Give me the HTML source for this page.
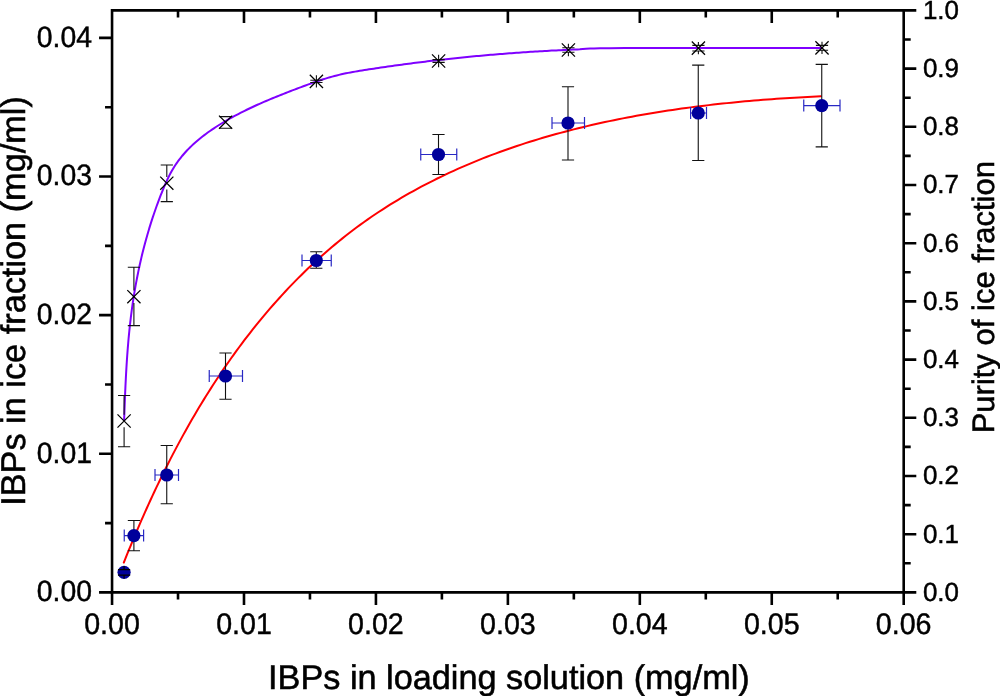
<!DOCTYPE html><html><head><meta charset="utf-8"><style>html,body{margin:0;padding:0;background:#fff}svg{display:block;will-change:transform}text{font-family:"Liberation Sans",sans-serif;fill:#000;text-rendering:geometricPrecision}</style></head><body>
<svg width="1000" height="696" viewBox="0 0 1000 696">
<rect width="1000" height="696" fill="#fff"/>
<path d="M124.11,420.97 L124.19,418.63 L124.27,416.29 L124.35,413.95 L124.44,411.60 L124.52,409.26 L124.60,406.91 L124.69,404.57 L124.78,402.22 L124.87,399.87 L124.97,397.53 L125.06,395.18 L125.16,392.83 L125.26,390.48 L125.37,388.13 L125.47,385.78 L125.58,383.43 L125.70,381.08 L125.82,378.72 L125.94,376.37 L126.07,374.02 L126.20,371.67 L126.33,369.32 L126.47,366.96 L126.61,364.61 L126.76,362.26 L126.92,359.91 L127.08,357.56 L127.24,355.21 L127.42,352.86 L127.59,350.51 L127.78,348.16 L127.97,345.81 L128.16,343.47 L128.36,341.12 L128.57,338.78 L128.79,336.43 L129.01,334.09 L129.25,331.74 L129.48,329.40 L129.73,327.06 L129.99,324.72 L130.25,322.39 L130.52,320.05 L130.80,317.71 L131.09,315.38 L131.38,313.05 L131.69,310.72 L132.00,308.39 L132.33,306.06 L132.66,303.74 L133.00,301.41 L133.36,299.09 L133.72,296.77 L134.09,294.45 L134.47,292.14 L134.86,289.82 L135.26,287.51 L135.67,285.20 L136.09,282.89 L136.53,280.58 L136.97,278.28 L137.42,275.98 L137.88,273.68 L138.35,271.38 L138.83,269.08 L139.32,266.79 L139.82,264.50 L140.34,262.21 L140.86,259.92 L141.39,257.64 L141.94,255.35 L142.49,253.07 L143.06,250.79 L143.64,248.52 L144.23,246.25 L144.83,243.98 L145.44,241.71 L146.06,239.44 L146.69,237.18 L147.33,234.92 L147.99,232.66 L148.65,230.41 L149.33,228.15 L150.02,225.90 L150.72,223.66 L151.44,221.41 L152.16,219.17 L152.90,216.93 L153.64,214.70 L154.40,212.47 L155.18,210.24 L155.96,208.01 L156.76,205.78 L157.56,203.56 L158.39,201.35 L159.22,199.13 L160.07,196.92 L160.93,194.71 L161.81,192.51 L162.70,190.31 L163.61,188.11 L164.53,185.92 L165.48,183.74 L166.45,181.57 L167.44,179.41 L168.47,177.28 L169.53,175.16 L170.62,173.08 L171.75,171.02 L172.93,168.99 L174.14,166.99 L175.40,165.04 L176.71,163.11 L178.05,161.22 L179.44,159.36 L180.87,157.54 L182.33,155.74 L183.83,153.98 L185.37,152.25 L186.94,150.55 L188.55,148.88 L190.19,147.24 L191.86,145.63 L193.56,144.04 L195.29,142.49 L197.04,140.96 L198.83,139.45 L200.64,137.97 L202.47,136.52 L204.33,135.09 L206.20,133.69 L208.10,132.31 L210.02,130.95 L211.96,129.61 L213.91,128.30 L215.88,127.00 L217.87,125.73 L219.87,124.48 L221.88,123.24 L223.90,122.03 L225.94,120.83 L227.98,119.65 L230.03,118.49 L232.10,117.35 L234.17,116.22 L236.24,115.11 L238.33,114.01 L240.43,112.93 L242.53,111.86 L244.64,110.81 L246.75,109.77 L248.88,108.75 L251.01,107.74 L253.14,106.74 L255.28,105.75 L257.43,104.77 L259.58,103.81 L261.74,102.86 L263.90,101.92 L266.07,100.98 L268.24,100.06 L270.42,99.15 L272.60,98.24 L274.78,97.35 L276.96,96.46 L279.15,95.58 L281.34,94.71 L283.54,93.84 L285.73,92.98 L287.93,92.13 L290.13,91.28 L292.33,90.43 L294.53,89.59 L296.73,88.76 L298.93,87.93 L301.14,87.10 L303.34,86.28 L305.54,85.46 L307.75,84.65 L309.95,83.85 L312.16,83.05 L314.37,82.27 L316.59,81.50 L318.80,80.75 L321.03,80.01 L323.25,79.29 L325.49,78.59 L327.72,77.91 L329.97,77.25 L332.22,76.61 L334.48,76.00 L336.74,75.41 L339.02,74.86 L341.30,74.33 L343.59,73.82 L345.89,73.34 L348.19,72.88 L350.50,72.44 L352.81,72.02 L355.13,71.61 L357.45,71.21 L359.78,70.83 L362.10,70.45 L364.43,70.08 L366.76,69.72 L369.09,69.36 L371.42,69.00 L373.75,68.64 L376.08,68.29 L378.41,67.95 L380.74,67.60 L383.07,67.26 L385.40,66.92 L387.73,66.58 L390.06,66.25 L392.39,65.92 L394.73,65.60 L397.06,65.27 L399.39,64.95 L401.72,64.64 L404.06,64.32 L406.39,64.01 L408.73,63.71 L411.06,63.40 L413.39,63.10 L415.73,62.80 L418.06,62.51 L420.40,62.22 L422.74,61.93 L425.07,61.64 L427.41,61.36 L429.75,61.08 L432.08,60.80 L434.42,60.53 L436.76,60.26 L439.09,59.99 L441.43,59.73 L443.77,59.46 L446.11,59.21 L448.45,58.95 L450.79,58.70 L453.13,58.45 L455.47,58.20 L457.80,57.96 L460.14,57.72 L462.49,57.48 L464.83,57.25 L467.17,57.02 L469.51,56.79 L471.85,56.56 L474.19,56.34 L476.53,56.12 L478.87,55.90 L481.21,55.69 L483.56,55.48 L485.90,55.27 L488.24,55.07 L490.59,54.87 L492.93,54.67 L495.27,54.47 L497.62,54.28 L499.96,54.09 L502.30,53.90 L504.65,53.72 L506.99,53.53 L509.34,53.36 L511.68,53.18 L514.03,53.01 L516.37,52.84 L518.72,52.67 L521.06,52.50 L523.41,52.34 L525.75,52.18 L528.10,52.03 L530.44,51.87 L532.79,51.72 L535.14,51.58 L537.48,51.43 L539.83,51.29 L542.18,51.15 L544.53,51.02 L546.87,50.88 L549.22,50.75 L551.57,50.62 L553.92,50.50 L556.26,50.38 L558.61,50.26 L560.96,50.14 L563.31,50.02 L565.66,49.91 L568.00,49.80 L570.35,49.70 L572.70,49.59 L575.05,49.49 L577.40,49.40 L579.75,49.30 L586.00,48.85 L590.00,48.60 L594.00,48.42 L600.00,48.28 L610.00,48.18 L625.00,48.12 L660.00,48.10 L698.40,48.08 L760.00,48.00 L822.00,47.88" fill="none" stroke="#7f00ff" stroke-width="2" stroke-linejoin="round"/>
<path d="M123.80,562.58 L125.48,558.37 L127.17,554.17 L128.88,549.96 L130.60,545.77 L132.34,541.58 L134.09,537.39 L135.85,533.21 L137.63,529.04 L139.43,524.87 L141.24,520.70 L143.06,516.55 L144.91,512.40 L146.76,508.25 L148.64,504.12 L150.52,499.99 L152.43,495.87 L154.35,491.76 L156.29,487.65 L158.25,483.56 L160.22,479.47 L162.21,475.39 L164.22,471.32 L166.25,467.26 L168.29,463.21 L170.36,459.16 L172.44,455.13 L174.54,451.11 L176.66,447.10 L178.80,443.10 L180.96,439.11 L183.13,435.13 L185.33,431.16 L187.55,427.21 L189.79,423.26 L192.05,419.33 L194.33,415.41 L196.63,411.51 L198.95,407.61 L201.29,403.73 L203.65,399.86 L206.04,396.01 L208.44,392.17 L210.87,388.34 L213.33,384.53 L215.80,380.73 L218.30,376.95 L220.82,373.18 L223.36,369.43 L225.93,365.69 L228.52,361.97 L231.13,358.26 L233.77,354.57 L236.43,350.90 L239.12,347.24 L241.83,343.60 L244.56,339.97 L247.33,336.37 L250.11,332.78 L252.92,329.21 L255.76,325.66 L258.62,322.12 L261.51,318.61 L264.42,315.11 L267.36,311.64 L270.33,308.19 L273.32,304.76 L276.34,301.35 L279.38,297.96 L282.45,294.60 L285.54,291.26 L288.66,287.94 L291.81,284.65 L294.99,281.38 L298.19,278.14 L301.41,274.93 L304.66,271.74 L307.94,268.58 L311.25,265.45 L314.58,262.34 L317.93,259.27 L321.31,256.23 L324.72,253.21 L328.15,250.23 L331.61,247.28 L335.09,244.36 L338.59,241.47 L342.12,238.61 L345.67,235.79 L349.24,233.01 L352.84,230.26 L356.46,227.55 L360.10,224.87 L363.77,222.23 L367.46,219.62 L371.17,217.05 L374.90,214.51 L378.65,212.01 L382.43,209.54 L386.22,207.11 L390.03,204.71 L393.87,202.35 L397.72,200.02 L401.60,197.72 L405.49,195.46 L409.41,193.23 L413.34,191.03 L417.29,188.86 L421.26,186.73 L425.24,184.63 L429.24,182.56 L433.27,180.52 L437.30,178.51 L441.36,176.54 L445.43,174.59 L449.52,172.68 L453.62,170.80 L457.74,168.94 L461.87,167.12 L466.02,165.32 L470.18,163.56 L474.36,161.82 L478.55,160.11 L482.76,158.44 L486.98,156.79 L491.21,155.16 L495.45,153.57 L499.71,152.00 L503.98,150.46 L508.26,148.95 L512.56,147.47 L516.86,146.01 L521.18,144.58 L525.51,143.17 L529.85,141.79 L534.19,140.44 L538.55,139.11 L542.92,137.81 L547.30,136.53 L551.69,135.27 L556.08,134.04 L560.49,132.84 L564.90,131.66 L569.32,130.50 L573.75,129.37 L578.19,128.26 L582.63,127.17 L587.08,126.11 L591.54,125.07 L596.00,124.05 L600.47,123.05 L604.95,122.07 L609.43,121.12 L613.91,120.19 L618.40,119.28 L622.90,118.39 L627.40,117.52 L631.90,116.67 L636.41,115.84 L640.92,115.03 L645.44,114.24 L649.95,113.47 L654.47,112.72 L658.99,111.99 L663.52,111.27 L668.04,110.58 L672.57,109.90 L677.10,109.25 L681.63,108.60 L686.16,107.98 L690.68,107.38 L695.21,106.79 L699.74,106.21 L704.27,105.66 L708.80,105.12 L713.33,104.60 L717.85,104.09 L722.38,103.60 L726.90,103.12 L731.42,102.66 L735.93,102.21 L740.45,101.78 L744.96,101.36 L749.46,100.96 L753.97,100.57 L758.47,100.20 L762.96,99.83 L767.45,99.48 L771.94,99.15 L776.42,98.82 L780.89,98.51 L785.36,98.21 L789.82,97.93 L794.28,97.65 L798.73,97.39 L803.17,97.13 L807.61,96.89 L812.04,96.66 L816.46,96.44 L820.87,96.23" fill="none" stroke="#ff0000" stroke-width="2" stroke-linejoin="round" stroke-linecap="round"/>
<path d="M124.10,395.50V414.80M124.10,427.20V446.75M118.00,395.50h12.2M118.00,446.75h12.2" stroke="#111" stroke-width="1.1" fill="none"/>
<path d="M117.50,414.40l13.2,13.2M117.50,427.60l13.2,-13.2" stroke="#000" stroke-width="1.25" fill="none"/>
<path d="M133.90,267.30V290.50M133.90,302.90V325.60M127.80,267.30h12.2M127.80,325.60h12.2" stroke="#111" stroke-width="1.1" fill="none"/>
<path d="M127.30,290.10l13.2,13.2M127.30,303.30l13.2,-13.2" stroke="#000" stroke-width="1.25" fill="none"/>
<path d="M166.80,165.00V177.00M166.80,189.40V201.60M160.70,165.00h12.2M160.70,201.60h12.2" stroke="#111" stroke-width="1.1" fill="none"/>
<path d="M160.20,176.60l13.2,13.2M160.20,189.80l13.2,-13.2" stroke="#000" stroke-width="1.25" fill="none"/>
<path d="M225.60,116.00V116.60M219.50,116.60h12.2M219.50,128.30h12.2" stroke="#111" stroke-width="1.1" fill="none"/>
<path d="M219.00,115.60l13.2,13.2M219.00,128.80l13.2,-13.2" stroke="#000" stroke-width="1.25" fill="none"/>
<path d="M316.40,75.20V80.30M316.40,82.50V87.60M310.30,80.30h12.2M310.30,82.50h12.2" stroke="#111" stroke-width="1.1" fill="none"/>
<path d="M309.80,74.80l13.2,13.2M309.80,88.00l13.2,-13.2" stroke="#000" stroke-width="1.25" fill="none"/>
<path d="M438.60,54.80V59.60M438.60,62.40V67.20M432.50,59.60h12.2M432.50,62.40h12.2" stroke="#111" stroke-width="1.1" fill="none"/>
<path d="M432.00,54.40l13.2,13.2M432.00,67.60l13.2,-13.2" stroke="#000" stroke-width="1.25" fill="none"/>
<path d="M568.40,43.80V47.80M568.40,52.20V56.20M562.30,47.80h12.2M562.30,52.20h12.2" stroke="#111" stroke-width="1.1" fill="none"/>
<path d="M561.80,43.40l13.2,13.2M561.80,56.60l13.2,-13.2" stroke="#000" stroke-width="1.25" fill="none"/>
<path d="M698.40,41.90V45.40M698.40,51.00V54.30M692.30,45.40h12.2M692.30,51.00h12.2" stroke="#111" stroke-width="1.1" fill="none"/>
<path d="M691.80,41.50l13.2,13.2M691.80,54.70l13.2,-13.2" stroke="#000" stroke-width="1.25" fill="none"/>
<path d="M822.00,41.65V45.40M822.00,50.30V54.05M815.90,45.40h12.2M815.90,50.30h12.2" stroke="#111" stroke-width="1.1" fill="none"/>
<path d="M815.40,41.25l13.2,13.2M815.40,54.45l13.2,-13.2" stroke="#000" stroke-width="1.25" fill="none"/>
<circle cx="124.07" cy="572.30" r="6.6" fill="#00009b"/>
<path d="M124.07,566.10V569.55M124.07,575.15V578.50M117.97,569.55h12.2M117.97,575.15h12.2" stroke="#000" stroke-width="1.2" fill="none"/>
<path d="M133.90,520.50V550.75M127.80,520.50h12.2M127.80,550.75h12.2" stroke="#111" stroke-width="1.1" fill="none"/>
<path d="M124.25,535.60H143.60M124.25,529.60v12M143.60,529.60v12" stroke="#2828c4" stroke-width="1.2" fill="none"/>
<circle cx="133.90" cy="535.60" r="6.6" fill="#00009b"/>
<path d="M166.75,445.50V503.75M160.65,445.50h12.2M160.65,503.75h12.2" stroke="#111" stroke-width="1.1" fill="none"/>
<path d="M155.00,475.00H178.50M155.00,469.00v12M178.50,469.00v12" stroke="#2828c4" stroke-width="1.2" fill="none"/>
<circle cx="166.75" cy="475.00" r="6.6" fill="#00009b"/>
<path d="M225.50,353.00V399.25M219.40,353.00h12.2M219.40,399.25h12.2" stroke="#111" stroke-width="1.1" fill="none"/>
<path d="M209.25,376.00H242.50M209.25,370.00v12M242.50,370.00v12" stroke="#2828c4" stroke-width="1.2" fill="none"/>
<circle cx="225.50" cy="376.00" r="6.6" fill="#00009b"/>
<path d="M316.30,251.75V268.25M310.20,251.75h12.2M310.20,268.25h12.2" stroke="#111" stroke-width="1.1" fill="none"/>
<path d="M302.00,260.50H331.25M302.00,254.50v12M331.25,254.50v12" stroke="#2828c4" stroke-width="1.2" fill="none"/>
<circle cx="316.30" cy="260.50" r="6.6" fill="#00009b"/>
<path d="M438.50,134.50V174.50M432.40,134.50h12.2M432.40,174.50h12.2" stroke="#111" stroke-width="1.1" fill="none"/>
<path d="M420.75,154.50H456.75M420.75,148.50v12M456.75,148.50v12" stroke="#2828c4" stroke-width="1.2" fill="none"/>
<circle cx="438.50" cy="154.50" r="6.6" fill="#00009b"/>
<path d="M568.00,86.75V160.00M561.90,86.75h12.2M561.90,160.00h12.2" stroke="#111" stroke-width="1.1" fill="none"/>
<path d="M552.00,123.00H584.50M552.00,117.00v12M584.50,117.00v12" stroke="#2828c4" stroke-width="1.2" fill="none"/>
<circle cx="568.00" cy="123.00" r="6.6" fill="#00009b"/>
<path d="M698.25,65.10V160.50M692.15,65.10h12.2M692.15,160.50h12.2" stroke="#111" stroke-width="1.1" fill="none"/>
<path d="M690.60,113.00H706.50M690.60,107.00v12M706.50,107.00v12" stroke="#2828c4" stroke-width="1.2" fill="none"/>
<circle cx="698.25" cy="113.00" r="6.6" fill="#00009b"/>
<path d="M821.75,64.40V146.90M815.65,64.40h12.2M815.65,146.90h12.2" stroke="#111" stroke-width="1.1" fill="none"/>
<path d="M803.75,105.60H840.00M803.75,99.60v12M840.00,99.60v12" stroke="#2828c4" stroke-width="1.2" fill="none"/>
<circle cx="821.75" cy="105.60" r="6.6" fill="#00009b"/>
<path d="M112.05,592.40V10.40H903.70V592.40H110.75" fill="none" stroke="#000" stroke-width="2.60" stroke-linejoin="miter"/>
<path d="M112.05,592.40v12.60M178.02,592.40v7.00M178.02,10.40v7.00M243.99,592.40v12.60M243.99,10.40v12.60M309.96,592.40v7.00M309.96,10.40v7.00M375.93,592.40v12.60M375.93,10.40v12.60M441.90,592.40v7.00M441.90,10.40v7.00M507.88,592.40v12.60M507.88,10.40v12.60M573.85,592.40v7.00M573.85,10.40v7.00M639.82,592.40v12.60M639.82,10.40v12.60M705.79,592.40v7.00M705.79,10.40v7.00M771.76,592.40v12.60M771.76,10.40v12.60M837.73,592.40v7.00M837.73,10.40v7.00M903.70,592.40v12.60M112.05,592.40h-13.00M112.05,523.09h-7.00M112.05,453.77h-13.00M112.05,384.46h-7.00M112.05,315.15h-13.00M112.05,245.84h-7.00M112.05,176.53h-13.00M112.05,107.21h-7.00M112.05,37.90h-13.00M903.70,592.40h12.60M903.70,563.30h7.00M903.70,534.20h12.60M903.70,505.10h7.00M903.70,476.00h12.60M903.70,446.90h7.00M903.70,417.80h12.60M903.70,388.70h7.00M903.70,359.60h12.60M903.70,330.50h7.00M903.70,301.40h12.60M903.70,272.30h7.00M903.70,243.20h12.60M903.70,214.10h7.00M903.70,185.00h12.60M903.70,155.90h7.00M903.70,126.80h12.60M903.70,97.70h7.00M903.70,68.60h12.60M903.70,39.50h7.00M903.70,10.40h12.60" fill="none" stroke="#000" stroke-width="2.60"/>
<text transform="translate(112.05,634.0) scale(0.96,1)" font-size="29.8" stroke="#000" stroke-width="0.45" text-anchor="middle">0.00</text>
<text transform="translate(243.99,634.0) scale(0.96,1)" font-size="29.8" stroke="#000" stroke-width="0.45" text-anchor="middle">0.01</text>
<text transform="translate(375.93,634.0) scale(0.96,1)" font-size="29.8" stroke="#000" stroke-width="0.45" text-anchor="middle">0.02</text>
<text transform="translate(507.88,634.0) scale(0.96,1)" font-size="29.8" stroke="#000" stroke-width="0.45" text-anchor="middle">0.03</text>
<text transform="translate(639.82,634.0) scale(0.96,1)" font-size="29.8" stroke="#000" stroke-width="0.45" text-anchor="middle">0.04</text>
<text transform="translate(771.76,634.0) scale(0.96,1)" font-size="29.8" stroke="#000" stroke-width="0.45" text-anchor="middle">0.05</text>
<text transform="translate(903.70,634.0) scale(0.96,1)" font-size="29.8" stroke="#000" stroke-width="0.45" text-anchor="middle">0.06</text>
<text transform="translate(92.0,601.20) scale(0.965,1)" font-size="29.4" stroke="#000" stroke-width="0.45" text-anchor="end">0.00</text>
<text transform="translate(92.0,462.57) scale(0.965,1)" font-size="29.4" stroke="#000" stroke-width="0.45" text-anchor="end">0.01</text>
<text transform="translate(92.0,323.95) scale(0.965,1)" font-size="29.4" stroke="#000" stroke-width="0.45" text-anchor="end">0.02</text>
<text transform="translate(92.0,185.33) scale(0.965,1)" font-size="29.4" stroke="#000" stroke-width="0.45" text-anchor="end">0.03</text>
<text transform="translate(92.0,46.70) scale(0.965,1)" font-size="29.4" stroke="#000" stroke-width="0.45" text-anchor="end">0.04</text>
<text transform="translate(922.9,600.80) scale(0.99,1)" font-size="26.2" stroke="#000" stroke-width="0.45" text-anchor="start">0.0</text>
<text transform="translate(922.9,542.60) scale(0.99,1)" font-size="26.2" stroke="#000" stroke-width="0.45" text-anchor="start">0.1</text>
<text transform="translate(922.9,484.40) scale(0.99,1)" font-size="26.2" stroke="#000" stroke-width="0.45" text-anchor="start">0.2</text>
<text transform="translate(922.9,426.20) scale(0.99,1)" font-size="26.2" stroke="#000" stroke-width="0.45" text-anchor="start">0.3</text>
<text transform="translate(922.9,368.00) scale(0.99,1)" font-size="26.2" stroke="#000" stroke-width="0.45" text-anchor="start">0.4</text>
<text transform="translate(922.9,309.80) scale(0.99,1)" font-size="26.2" stroke="#000" stroke-width="0.45" text-anchor="start">0.5</text>
<text transform="translate(922.9,251.60) scale(0.99,1)" font-size="26.2" stroke="#000" stroke-width="0.45" text-anchor="start">0.6</text>
<text transform="translate(922.9,193.40) scale(0.99,1)" font-size="26.2" stroke="#000" stroke-width="0.45" text-anchor="start">0.7</text>
<text transform="translate(922.9,135.20) scale(0.99,1)" font-size="26.2" stroke="#000" stroke-width="0.45" text-anchor="start">0.8</text>
<text transform="translate(922.9,77.00) scale(0.99,1)" font-size="26.2" stroke="#000" stroke-width="0.45" text-anchor="start">0.9</text>
<text transform="translate(922.9,18.80) scale(0.99,1)" font-size="26.2" stroke="#000" stroke-width="0.45" text-anchor="start">1.0</text>
<text x="508.9" y="688.8" font-size="34.25" stroke="#000" stroke-width="0.55" text-anchor="middle">IBPs in loading solution (mg/ml)</text>
<text transform="translate(25.3,301) rotate(-90)" font-size="34.3" stroke="#000" stroke-width="0.55" text-anchor="middle">IBPs in ice fraction (mg/ml)</text>
<text transform="translate(993.8,297.2) rotate(-90)" font-size="31" stroke="#000" stroke-width="0.55" text-anchor="middle">Purity of ice fraction</text>
</svg></body></html>
